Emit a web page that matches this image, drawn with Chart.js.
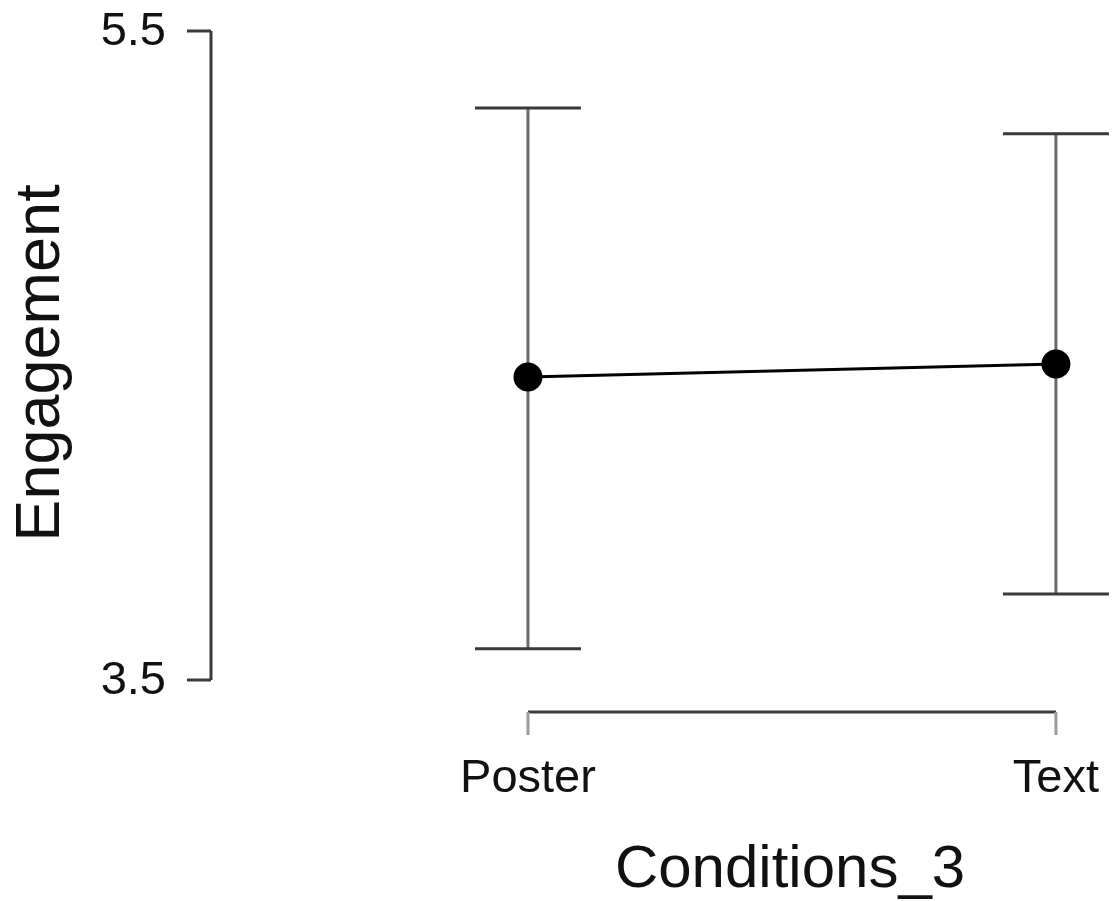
<!DOCTYPE html>
<html>
<head>
<meta charset="utf-8">
<style>
  html, body { margin: 0; padding: 0; background: #ffffff; }
  #wrap { width: 1114px; height: 901px; }
  canvas { display: block; }
</style>
<script src="https://cdn.jsdelivr.net/npm/chart.js@4/dist/chart.umd.min.js"></script>
</head>
<body>
<div id="wrap"><canvas id="c" width="1114" height="901"></canvas></div>
<script>
const categories = ['Poster', 'Text'];
const means = [4.434, 4.474];
const ciLower = [3.596, 3.765];
const ciUpper = [5.263, 5.183];
const yTicks = [3.5, 5.5];
const xTitle = 'Conditions_3';
const yTitle = 'Engagement';

const FONT = '"Liberation Sans", Arial, sans-serif';

const points = categories.map((c, i) => ({ x: i, y: means[i] }));

const rAxesPlugin = {
  id: 'rAxes',
  beforeDatasetsDraw(chart) {
    const ctx = chart.ctx;
    const xs = chart.scales.x, ys = chart.scales.y;
    ctx.save();
    categories.forEach((c, i) => {
      const px = xs.getPixelForValue(i);
      const top = ys.getPixelForValue(ciUpper[i]);
      const bot = ys.getPixelForValue(ciLower[i]);
      ctx.strokeStyle = '#6a6a6a';
      ctx.lineWidth = 3;
      ctx.beginPath();
      ctx.moveTo(px, top); ctx.lineTo(px, bot);
      ctx.stroke();
      ctx.strokeStyle = '#3a3a3a';
      ctx.beginPath();
      ctx.moveTo(px - 53, top); ctx.lineTo(px + 53, top);
      ctx.moveTo(px - 53, bot); ctx.lineTo(px + 53, bot);
      ctx.stroke();
    });
    ctx.restore();
  },
  afterDraw(chart) {
    const ctx = chart.ctx;
    const xs = chart.scales.x, ys = chart.scales.y;
    const axX = 211;
    ctx.save();
    const yTop = ys.getPixelForValue(Math.max(...yTicks));
    const yBot = ys.getPixelForValue(Math.min(...yTicks));
    ctx.strokeStyle = '#3a3a3a';
    ctx.lineWidth = 3;
    ctx.beginPath();
    ctx.moveTo(axX, yTop); ctx.lineTo(axX, yBot);
    yTicks.forEach(v => {
      const py = ys.getPixelForValue(v);
      ctx.moveTo(axX - 24, py); ctx.lineTo(axX, py);
    });
    ctx.stroke();
    ctx.fillStyle = '#111';
    ctx.font = '47px ' + FONT;
    ctx.textAlign = 'right';
    ctx.textBaseline = 'middle';
    yTicks.forEach(v => {
      ctx.fillText(v.toFixed(1), 166, ys.getPixelForValue(v) + 1);
    });
    const axY = 712;
    const x0 = xs.getPixelForValue(0), x1 = xs.getPixelForValue(categories.length - 1);
    ctx.strokeStyle = '#3a3a3a';
    ctx.beginPath();
    ctx.moveTo(x0, axY); ctx.lineTo(x1, axY);
    ctx.stroke();
    ctx.strokeStyle = '#9a9a9a';
    ctx.beginPath();
    categories.forEach((c, i) => {
      const px = xs.getPixelForValue(i);
      ctx.moveTo(px, axY); ctx.lineTo(px, axY + 23);
    });
    ctx.stroke();
    ctx.textAlign = 'center';
    ctx.textBaseline = 'alphabetic';
    categories.forEach((c, i) => {
      ctx.fillText(c, xs.getPixelForValue(i), 792);
    });
    ctx.font = '60px ' + FONT;
    ctx.fillText(xTitle, 790, 887);
    ctx.save();
    ctx.translate(59, 363);
    ctx.rotate(-Math.PI / 2);
    ctx.font = '63px ' + FONT;
    ctx.fillText(yTitle, 0, 0);
    ctx.restore();
    ctx.restore();
  }
};

new Chart(document.getElementById('c'), {
  type: 'line',
  data: {
    datasets: [{
      data: points,
      borderColor: '#000',
      borderWidth: 3,
      pointRadius: 14.5,
      pointHoverRadius: 14.5,
      pointBackgroundColor: '#000',
      pointBorderColor: '#000',
      pointBorderWidth: 0,
      tension: 0,
      clip: false
    }]
  },
  options: {
    responsive: false,
    animation: false,
    devicePixelRatio: 1,
    layout: { autoPadding: false, padding: { left: 0, right: 0, top: 31, bottom: 221 } },
    plugins: { legend: { display: false }, tooltip: { enabled: false } },
    events: [],
    scales: {
      x: { type: 'linear', min: -1, max: 1.11, display: false },
      y: { type: 'linear', min: 3.5, max: 5.5, display: false }
    }
  },
  plugins: [rAxesPlugin]
});
</script>
</body>
</html>
